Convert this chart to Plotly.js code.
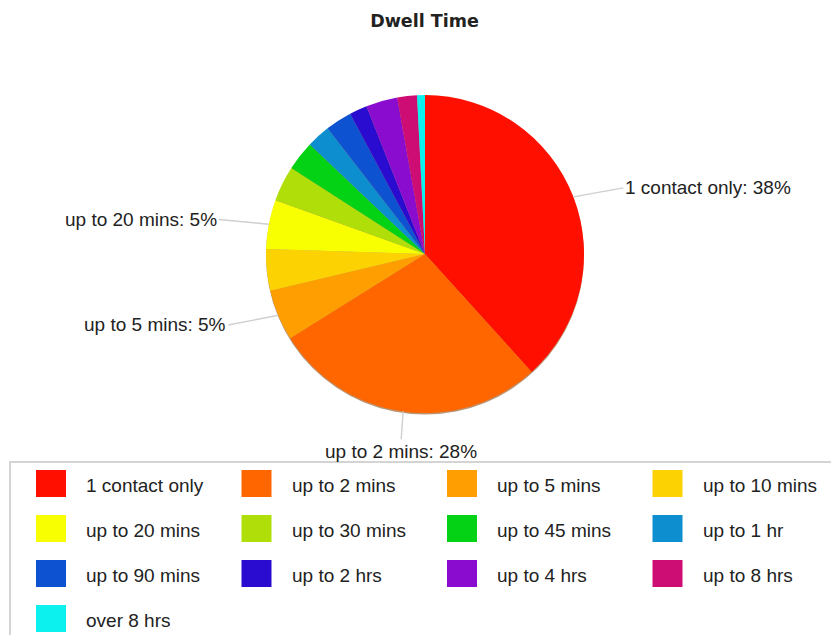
<!DOCTYPE html>
<html>
<head>
<meta charset="utf-8">
<script src="https://cdn.plot.ly/plotly-3.0.1.min.js"></script>
<style>
  html, body { margin: 0; padding: 0; background: #ffffff; }
  #chart { width: 831px; height: 635px; }
</style>
</head>
<body>
<div id="chart"></div>
<script>
// ---- data ----
const categories = [
  '1 contact only', 'up to 2 mins', 'up to 5 mins', 'up to 10 mins',
  'up to 20 mins', 'up to 30 mins', 'up to 45 mins', 'up to 1 hr',
  'up to 90 mins', 'up to 2 hrs', 'up to 4 hrs', 'up to 8 hrs', 'over 8 hrs'
];
const shares = [38.3, 27.8, 5.2, 4.2, 5.0, 3.6, 3.0, 2.4, 2.7, 1.8, 3.2, 2.0, 0.8];
const sliceColors = [
  '#FF0F00', '#FF6600', '#FF9E01', '#FCD202', '#F8FF01', '#B0DE09', '#04D215',
  '#0D8ECF', '#0D52D1', '#2A0CD0', '#8A0CCF', '#CD0D74', '#0CF0EE'
];
const labeledCategories = ['1 contact only', 'up to 2 mins', 'up to 5 mins', 'up to 20 mins'];
const chartTitle = 'Dwell Time';

// ---- layout constants ----
const W = 831, H = 635;
const cx = 425, cy = 254, r = 159;
const textColor = '#222222';
const labelFont = { family: 'Liberation Sans, Arial, sans-serif', size: 19, color: textColor };

function pieDomain(dy) {
  return {
    x: [(cx - r - 100) / W, (cx + r + 100) / W],
    y: [1 - (cy + r + dy) / H, 1 - (cy - r + dy) / H]
  };
}

// soft 3D-style shadow under the pie
const shadow = {
  type: 'pie',
  values: [1],
  labels: ['shadow'],
  textinfo: 'none',
  hoverinfo: 'none',
  showlegend: false,
  sort: false,
  marker: { colors: ['rgba(130,60,0,0.55)'], line: { width: 0 } },
  domain: pieDomain(1.6)
};

const trace = {
  type: 'pie',
  labels: categories,
  values: shares,
  sort: false,
  direction: 'clockwise',
  rotation: 0,
  textinfo: 'none',
  hoverinfo: 'none',
  showlegend: false,
  marker: { colors: sliceColors, line: { width: 0 } },
  domain: pieDomain(0)
};

const annotations = [];
const shapes = [];

// slice labels with leader lines, placed from each slice's mid-angle
const total = shares.reduce((a, b) => a + b, 0);
let cum = 0;
categories.forEach((name, i) => {
  const frac = shares[i] / total;
  const mid = cum + frac / 2;
  cum += frac;
  if (labeledCategories.indexOf(name) < 0) return;
  const th = 2 * Math.PI * mid;
  const s = Math.sin(th), c = Math.cos(th);
  const px = cx + r * s, py = cy - r * c;
  let xanchor, yanchor = 'middle', ax, ay;
  if (Math.abs(s) > 0.3) {
    xanchor = s > 0 ? 'left' : 'right';
    ax = (s > 0 ? 1 : -1) * 50;
    ay = -25 * c;
  } else {
    xanchor = 'center';
    yanchor = c < 0 ? 'top' : 'bottom';
    ax = 14 * s;
    ay = -28 * c;
  }
  annotations.push({
    xref: 'paper', yref: 'paper',
    x: px / W, y: 1 - py / H,
    ax: ax, ay: ay,
    xanchor: xanchor, yanchor: yanchor,
    text: name + ': ' + Math.round(frac * 100) + '%',
    showarrow: true, arrowhead: 0, arrowwidth: 1.4, arrowcolor: '#cfcfcf',
    standoff: 0, startstandoff: 0,
    font: labelFont
  });
});

// custom legend: large swatches in a 4-column grid
const legTop = 462, colW = 205.5, rowH = 45, swX = 36, swY = 470, swW = 30, swH = 27, txtX = 84;
shapes.push({
  type: 'rect', xref: 'paper', yref: 'paper',
  x0: 10 / W, x1: 1.05, y0: -0.05, y1: 1 - legTop / H,
  line: { color: '#d4d4d4', width: 2 }, fillcolor: 'rgba(0,0,0,0)'
});
categories.forEach((name, i) => {
  const col = i % 4, row = Math.floor(i / 4);
  const x0 = swX + col * colW, y0 = swY + row * rowH;
  shapes.push({
    type: 'rect', xref: 'paper', yref: 'paper',
    x0: x0 / W, x1: (x0 + swW) / W, y0: 1 - (y0 + swH) / H, y1: 1 - y0 / H,
    line: { width: 0 }, fillcolor: sliceColors[i]
  });
  annotations.push({
    xref: 'paper', yref: 'paper',
    x: (txtX + col * colW) / W, y: 1 - (y0 + swH / 2 + 2) / H,
    xanchor: 'left', yanchor: 'middle', showarrow: false,
    text: name, font: labelFont
  });
});

const layout = {
  width: W, height: H,
  margin: { l: 0, r: 0, t: 0, b: 0 },
  paper_bgcolor: '#ffffff',
  plot_bgcolor: '#ffffff',
  title: {
    text: '<b>' + chartTitle + '</b>',
    font: { family: 'DejaVu Sans, Verdana, sans-serif', size: 17.5, color: textColor },
    x: 424.5 / W, xanchor: 'center',
    y: 1 - 20.5 / H, yanchor: 'middle',
    xref: 'paper', yref: 'paper'
  },
  annotations: annotations,
  shapes: shapes,
  showlegend: false
};

Plotly.newPlot('chart', [shadow, trace], layout, { displayModeBar: false, staticPlot: true });
</script>
</body>
</html>
